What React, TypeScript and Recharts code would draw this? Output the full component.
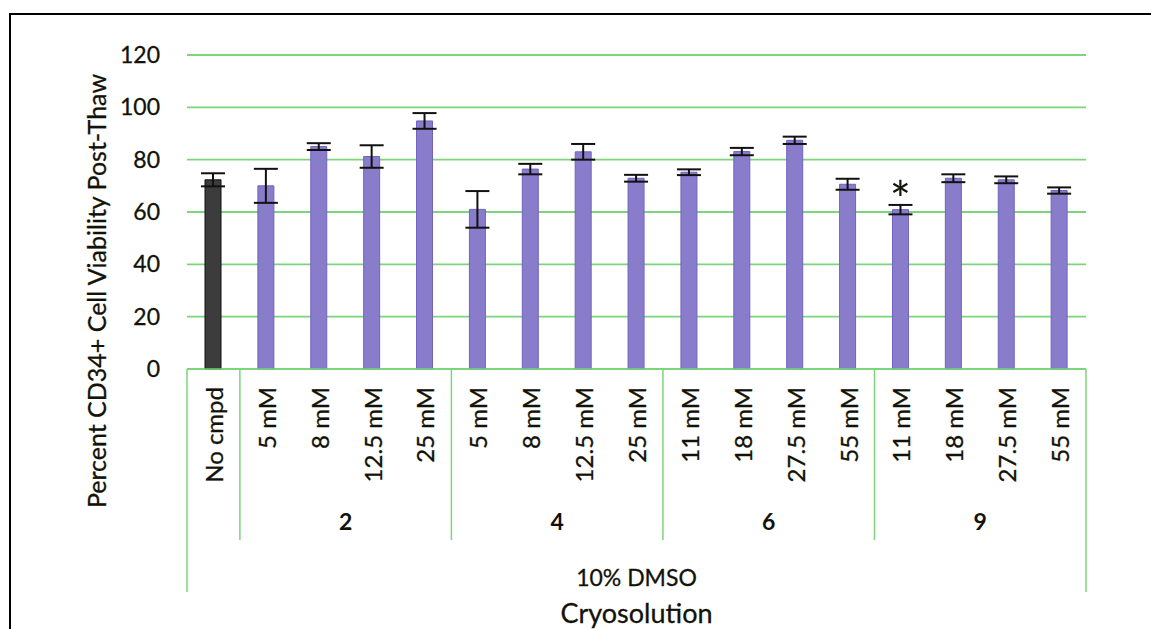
import React from 'react';
import { BarChart, Bar, XAxis, YAxis, CartesianGrid, ErrorBar, Cell, LabelList } from 'recharts';

// Concentration of each cryoprotectant compound (bar categories)
const concentrations = [
  'No cmpd',
  '5 mM', '8 mM', '12.5 mM', '25 mM',
  '5 mM', '8 mM', '12.5 mM', '25 mM',
  '11 mM', '18 mM', '27.5 mM', '55 mM',
  '11 mM', '18 mM', '27.5 mM', '55 mM',
];
// Compound each bar belongs to (second axis level)
const compounds = ['', '2', '2', '2', '2', '4', '4', '4', '4', '6', '6', '6', '6', '9', '9', '9', '9'];
// Mean CD34+ viability after thaw (%)
const viability = [72.3, 70, 85, 81.2, 94.8, 61, 76.4, 83, 72.9, 75.2, 83.1, 87.4, 70.6, 60.9, 72.9, 72.3, 68.2];
// Error bar half-widths (%)
const viabilityErr = [2.5, 6.5, 1.3, 4.3, 3, 7, 2, 3, 1.3, 1.1, 1.4, 1.4, 2.1, 1.8, 1.5, 1.3, 1.2];
// Significance markers
const significance = ['', '', '', '', '', '', '', '', '', '', '', '', '', '*', '', '', ''];
const yTicks = [0, 20, 40, 60, 80, 100, 120];
const solventLabel = '10% DMSO';
const xTitle = 'Cryosolution';
const yTitle = 'Percent CD34+ Cell Viability Post-Thaw';

const data = concentrations.map((c, i) => ({
  key: `${compounds[i]}|${c}|${i}`,
  value: viability[i],
  err: viabilityErr[i],
  mark: significance[i],
}));

const W = 1151;
const H = 629;
const MARGIN = { top: 55, right: 65, bottom: 0, left: 127 };
const Y_AXIS_W = 60;
const X_AXIS_H = 260;
const PLOT_W = W - MARGIN.left - MARGIN.right - Y_AXIS_W;

const FONT = 'Lato, "Open Sans", sans-serif';
const TEXT = '#121208';
const GREEN = '#7bd67b';
const BAR_FILL = '#897dcb';
const BAR_EDGE = '#6f63c0';
const CONTROL_FILL = '#3c3c3c';

function CategoryTick(props: any) {
  const { x, y, payload } = props;
  const i: number = payload.index;
  const n = data.length;
  const band = PLOT_W / n;
  const left = x - band / 2;
  const grp = compounds[i];
  const isStart = i === 0 || compounds[i - 1] !== grp;
  const isLast = i === n - 1;
  let end = i;
  while (end + 1 < n && compounds[end + 1] === grp) end++;
  const groupCenter = left + ((end - i + 1) * band) / 2;
  return (
    <g>
      <text
        transform={`translate(${x},${y + 18}) rotate(-90)`}
        textAnchor="end"
        dominantBaseline="central"
        fontFamily={FONT}
        fontSize={24}
        fill={TEXT}
        stroke={TEXT}
        strokeWidth={0.3}
      >
        {concentrations[i]}
      </text>
      {isStart && (
        <line x1={left} x2={left} y1={y} y2={y + (i === 0 ? 223 : 171)} stroke={GREEN} strokeWidth={1.5} />
      )}
      {isStart && grp && (
        <text
          x={groupCenter}
          y={y + 152}
          textAnchor="middle"
          dominantBaseline="central"
          fontFamily={FONT}
          fontWeight="bold"
          fontSize={23}
          fill={TEXT}
        >
          {grp}
        </text>
      )}
      {isLast && (
        <line x1={x + band / 2} x2={x + band / 2} y1={y} y2={y + 223} stroke={GREEN} strokeWidth={1.5} />
      )}
      {i === 0 && (
        <text
          x={left + (n * band) / 2}
          y={y + 208}
          textAnchor="middle"
          dominantBaseline="central"
          fontFamily={FONT}
          fontSize={23}
          fill={TEXT}
          stroke={TEXT}
          strokeWidth={0.3}
        >
          {solventLabel}
        </text>
      )}
    </g>
  );
}

const renderYTitle = (p: any) => {
  const vb = p.viewBox || {};
  return (
    <text
      transform={`translate(${vb.x - 31},${vb.y + vb.height / 2 + 79}) rotate(-90)`}
      textAnchor="middle"
      dominantBaseline="central"
      fontFamily={FONT}
      fontSize={25}
      fill={TEXT}
      stroke={TEXT}
      strokeWidth={0.3}
    >
      {yTitle}
    </text>
  );
};

const renderXTitle = (p: any) => {
  const vb = p.viewBox || {};
  return (
    <text
      x={vb.x + vb.width / 2}
      y={vb.y + 254}
      textAnchor="middle"
      fontFamily={FONT}
      fontSize={27}
      fill={TEXT}
      stroke={TEXT}
      strokeWidth={0.3}
    >
      {xTitle}
    </text>
  );
};

const renderMark = (p: any) => {
  if (!p.value) return null;
  return (
    <text
      x={p.x + p.width / 2}
      y={p.y + 8}
      textAnchor="middle"
      fontFamily={FONT}
      fontSize={50}
      fill={TEXT}
    >
      {p.value}
    </text>
  );
};

export default function App() {
  return (
    <div
      style={{
        position: 'absolute',
        left: 0,
        top: 0,
        width: W,
        height: H,
        overflow: 'hidden',
        background: '#fff',
      }}
    >
      <div
        style={{
          position: 'absolute',
          left: 9,
          top: 13,
          width: W + 50,
          height: H + 50,
          borderTop: '2px solid #000',
          borderLeft: '2px solid #000',
          boxSizing: 'border-box',
        }}
      />
      <div style={{ position: 'absolute', left: 0, top: 0 }}>
        <BarChart width={W} height={H} data={data} margin={MARGIN} barSize={16}>
          <CartesianGrid vertical={false} stroke={GREEN} strokeWidth={1.8} />
          <XAxis
            dataKey="key"
            height={X_AXIS_H}
            interval={0}
            tickLine={false}
            tickSize={0}
            tickMargin={0}
            axisLine={{ stroke: GREEN, strokeWidth: 1.5 }}
            tick={<CategoryTick />}
            label={renderXTitle}
          />
          <YAxis
            width={Y_AXIS_W}
            domain={[0, 120]}
            ticks={yTicks}
            axisLine={false}
            tickLine={false}
            tickSize={0}
            tickMargin={27}
            tick={{ fill: TEXT, fontSize: 23, fontFamily: FONT, stroke: TEXT, strokeWidth: 0.3 }}
            label={renderYTitle}
          />
          <Bar dataKey="value" fill={BAR_FILL} stroke={BAR_EDGE} strokeWidth={1} isAnimationActive={false}>
            {data.map((d, i) => (
              <Cell
                key={d.key}
                fill={i === 0 ? CONTROL_FILL : BAR_FILL}
                stroke={i === 0 ? '#111' : BAR_EDGE}
              />
            ))}
            <ErrorBar dataKey="err" width={12} stroke="#111" strokeWidth={2} direction="y" isAnimationActive={false} />
            <LabelList dataKey="mark" content={renderMark} />
          </Bar>
        </BarChart>
      </div>
    </div>
  );
}
